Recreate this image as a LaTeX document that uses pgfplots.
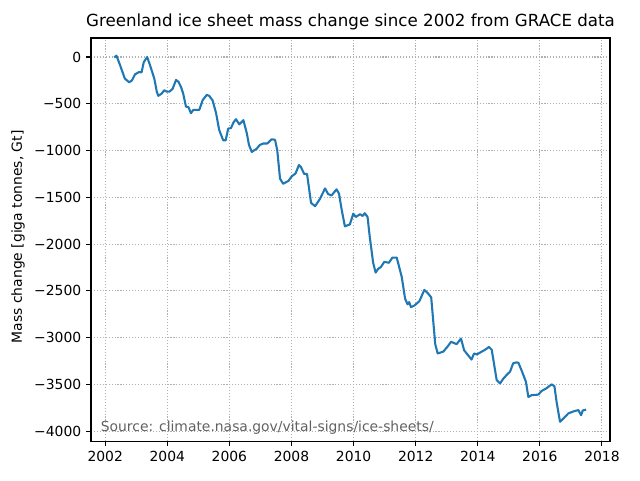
\documentclass[border=0pt]{standalone}
\usepackage{fontspec}
\setmainfont{DejaVu Sans}
\usepackage{pgfplots}
\pgfplotsset{compat=1.18}
\definecolor{mplblue}{HTML}{1F77B4}
\definecolor{gridgray}{HTML}{B0B0B0}

\pgfplotstableread{
year mass
2002.29 -5
2002.36 15
2002.47 -80
2002.63 -230
2002.77 -270
2002.86 -250
2002.96 -185
2003.09 -160
2003.17 -165
2003.24 -55
2003.35 0
2003.44 -85
2003.58 -230
2003.66 -370
2003.71 -415
2003.82 -390
2003.90 -355
2003.98 -370
2004.07 -370
2004.17 -340
2004.28 -245
2004.36 -265
2004.44 -320
2004.51 -390
2004.60 -530
2004.68 -535
2004.76 -600
2004.84 -565
2004.92 -565
2005.03 -565
2005.14 -460
2005.27 -405
2005.35 -415
2005.46 -465
2005.57 -600
2005.67 -780
2005.80 -890
2005.88 -890
2005.96 -765
2006.05 -760
2006.13 -700
2006.21 -665
2006.32 -720
2006.45 -675
2006.56 -815
2006.63 -940
2006.72 -1015
2006.88 -980
2006.98 -940
2007.09 -925
2007.22 -925
2007.36 -880
2007.47 -885
2007.54 -995
2007.63 -1300
2007.73 -1355
2007.90 -1325
2008.01 -1275
2008.13 -1245
2008.24 -1155
2008.30 -1175
2008.41 -1250
2008.50 -1250
2008.63 -1560
2008.76 -1595
2008.92 -1515
2009.08 -1405
2009.18 -1465
2009.29 -1480
2009.45 -1415
2009.53 -1460
2009.62 -1640
2009.72 -1810
2009.88 -1790
2009.99 -1675
2010.07 -1710
2010.21 -1680
2010.29 -1700
2010.36 -1670
2010.45 -1710
2010.52 -1920
2010.63 -2200
2010.71 -2305
2010.79 -2265
2010.88 -2245
2010.99 -2190
2011.14 -2200
2011.25 -2145
2011.39 -2145
2011.55 -2350
2011.66 -2585
2011.74 -2645
2011.79 -2620
2011.85 -2675
2011.97 -2655
2012.12 -2610
2012.28 -2490
2012.39 -2525
2012.50 -2570
2012.56 -2800
2012.63 -3070
2012.71 -3170
2012.89 -3150
2013.03 -3095
2013.14 -3045
2013.32 -3070
2013.46 -3010
2013.56 -3135
2013.69 -3190
2013.80 -3235
2013.88 -3170
2013.97 -3180
2014.13 -3150
2014.26 -3125
2014.36 -3100
2014.45 -3130
2014.61 -3455
2014.72 -3490
2014.82 -3440
2014.93 -3400
2015.04 -3365
2015.14 -3275
2015.25 -3265
2015.31 -3270
2015.41 -3350
2015.55 -3470
2015.63 -3635
2015.74 -3615
2015.95 -3610
2016.06 -3570
2016.20 -3545
2016.30 -3520
2016.38 -3500
2016.47 -3520
2016.54 -3690
2016.65 -3900
2016.76 -3865
2016.92 -3810
2017.08 -3790
2017.24 -3775
2017.33 -3830
2017.38 -3780
2017.49 -3770
}\grace

\begin{document}
\begin{tikzpicture}
\begin{axis}[
    scale only axis, width=373.7pt, height=290.2pt,
    xmin=2001.54, xmax=2018.26, ymin=-4107, ymax=203,
    xtick={2002,2004,2006,2008,2010,2012,2014,2016,2018},
    xticklabels={2002,2004,2006,2008,2010,2012,2014,2016,2018},
    ytick={-4000,-3500,-3000,-2500,-2000,-1500,-1000,-500,0},
    yticklabels={−4000,−3500,−3000,−2500,−2000,−1500,−1000,−500,0},
    axis line style={line width=0.8pt},
    tick style={black, line width=0.8pt}, major tick length=3.5pt,
    tick align=outside, xtick pos=left, ytick pos=left,
    grid=major,
    major grid style={gridgray, line width=0.8pt, dash pattern=on 0.8pt off 1.32pt},
    ticklabel style={font=\fontsize{10}{12}\selectfont},
    ylabel={Mass change [giga tonnes, Gt]},
    ylabel style={font=\fontsize{10}{12}\selectfont, xshift=2pt},
    title={Greenland ice sheet mass change since 2002 from GRACE data},
    title style={font=\fontsize{12}{14}\selectfont, at={(0.5,1)}, anchor=south, yshift=-3.5pt},
]
\addplot[mplblue, line width=1.5pt, line join=round] table[x=year, y=mass] {\grace};
\node[anchor=west, text=black!62, font=\fontsize{10}{12}\selectfont, inner sep=0pt]
    at (axis cs:2001.85,-3968) {Source: climate.nasa.gov/vital-signs/ice-sheets/};
\end{axis}
\pgfresetboundingbox
\useasboundingbox ([shift={(-65.5pt,-28.1pt)}]current axis.south west)
    rectangle ([shift={(21.6pt,27.4pt)}]current axis.north east);
\end{tikzpicture}
\end{document}
